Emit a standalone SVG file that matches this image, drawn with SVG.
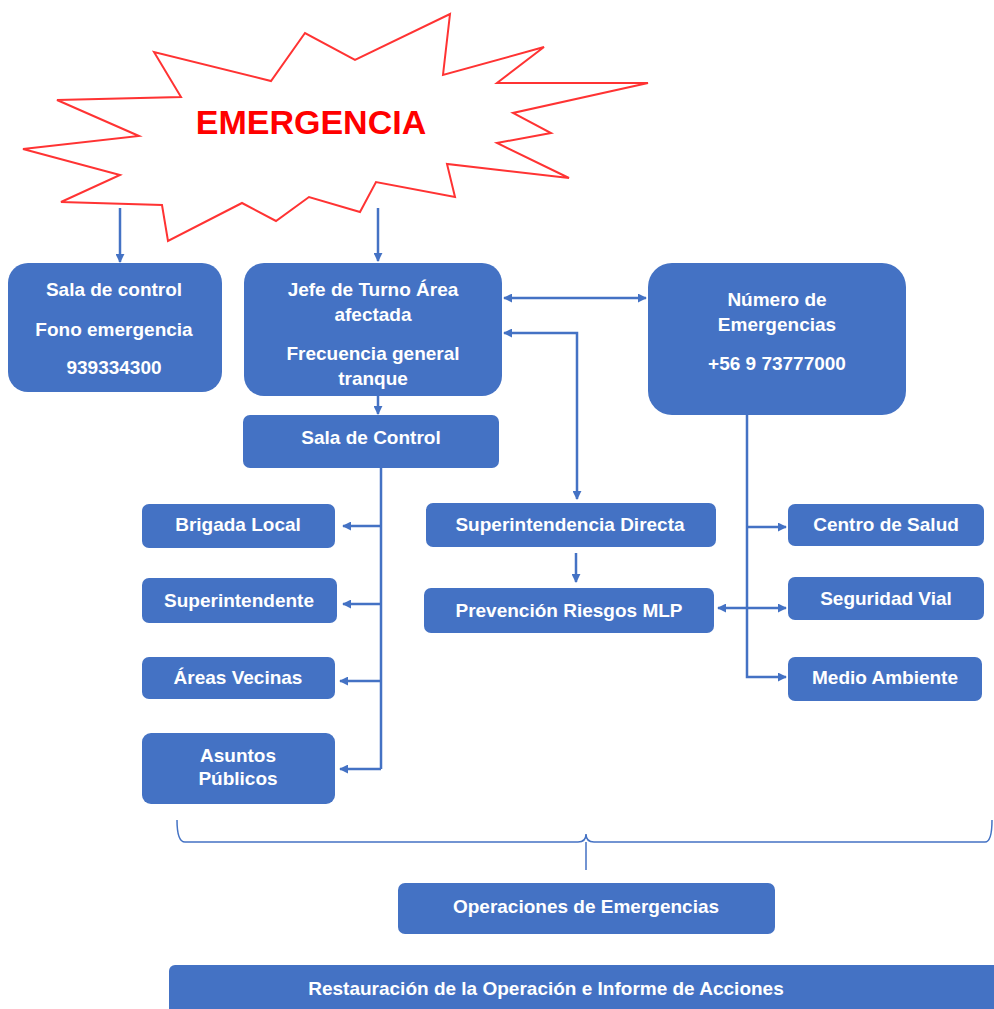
<svg xmlns="http://www.w3.org/2000/svg" width="994" height="1009" viewBox="0 0 994 1009">
<style>
.box{fill:#4472C4}
.t{font-family:"Liberation Sans",Arial,sans-serif;font-weight:bold;font-size:19px;fill:#FFFFFF;text-anchor:middle}
.c{fill:none;stroke:#4472C4;stroke-width:2.5}
</style>
<defs>
<marker id="ah" viewBox="0 0 10 10" refX="9" refY="5" markerWidth="9" markerHeight="9" markerUnits="userSpaceOnUse" orient="auto-start-reverse">
<path d="M0,0 L10,5 L0,10 z" fill="#4472C4"/>
</marker>
</defs>
<rect width="994" height="1009" fill="#FFFFFF"/>
<g id="emergencia">
<polygon points="154,52 181,97 57,100 139,136 23,149 120,175 61,202 162,205 168,241 242,203 276,221 309,197 360,212 376,182 455,197 447,164 569,178 497,143 551,133 513,113 648,83 497,83 544,47 443,75 450,14 355,60 305,33 271,81" fill="#FFFFFF" stroke="#F33" stroke-width="2"/>
<text x="311" y="134" font-family="'Liberation Sans',Arial,sans-serif" font-weight="bold" font-size="34" fill="#FF0000" text-anchor="middle">EMERGENCIA</text>
</g>
<g id="connectors">
<line class="c" x1="120" y1="208" x2="120" y2="262" marker-end="url(#ah)"/>
<line class="c" x1="378" y1="208" x2="378" y2="261" marker-end="url(#ah)"/>
<line class="c" x1="378" y1="396" x2="378" y2="414" marker-end="url(#ah)"/>
<line class="c" x1="504" y1="298" x2="646" y2="298" marker-start="url(#ah)" marker-end="url(#ah)"/>
<path class="c" d="M504,333 H577 V499" marker-start="url(#ah)" marker-end="url(#ah)"/>
<line class="c" x1="576" y1="553" x2="576" y2="582" marker-end="url(#ah)"/>
<path class="c" d="M381,468 V769"/>
<line class="c" x1="381" y1="526" x2="343" y2="526" marker-end="url(#ah)"/>
<line class="c" x1="381" y1="604" x2="343" y2="604" marker-end="url(#ah)"/>
<line class="c" x1="381" y1="681" x2="340" y2="681" marker-end="url(#ah)"/>
<line class="c" x1="381" y1="769" x2="340" y2="769" marker-end="url(#ah)"/>
<path class="c" d="M747,415 V677 H786" marker-end="url(#ah)"/>
<line class="c" x1="747" y1="527" x2="786" y2="527" marker-end="url(#ah)"/>
<line class="c" x1="718" y1="608" x2="786" y2="608" marker-start="url(#ah)" marker-end="url(#ah)"/>
<path d="M177,820 Q177,842 185,842 H578 Q586,842 586,834 Q586,842 594,842 H985 Q992,842 992,820 M586,842 V870" fill="none" stroke="#4472C4" stroke-width="1.5"/>
</g>
<g id="sala-control-fono">
<rect class="box" x="8" y="263" width="214" height="129" rx="20"/>
<text class="t" x="114" y="296">Sala de control</text>
<text class="t" x="114" y="336">Fono emergencia</text>
<text class="t" x="114" y="374">939334300</text>
</g>
<g id="jefe-turno">
<rect class="box" x="244" y="263" width="258" height="133" rx="20"/>
<text class="t" x="373" y="296">Jefe de Turno Área</text>
<text class="t" x="373" y="321">afectada</text>
<text class="t" x="373" y="360">Frecuencia general</text>
<text class="t" x="373" y="385">tranque</text>
</g>
<g id="numero-emergencias">
<rect class="box" x="648" y="263" width="258" height="152" rx="24"/>
<text class="t" x="777" y="306">Número de</text>
<text class="t" x="777" y="331">Emergencias</text>
<text class="t" x="777" y="370">+56 9 73777000</text>
</g>
<g id="sala-de-control">
<rect class="box" x="243" y="415" width="256" height="53" rx="7"/>
<text class="t" x="371" y="444">Sala de Control</text>
</g>
<g id="brigada-local">
<rect class="box" x="142" y="504" width="193" height="44" rx="7"/>
<text class="t" x="238" y="531">Brigada Local</text>
</g>
<g id="superintendente">
<rect class="box" x="142" y="578" width="195" height="45" rx="7"/>
<text class="t" x="239" y="607">Superintendente</text>
</g>
<g id="areas-vecinas">
<rect class="box" x="142" y="657" width="193" height="42" rx="7"/>
<text class="t" x="238" y="684">Áreas Vecinas</text>
</g>
<g id="asuntos-publicos">
<rect class="box" x="142" y="733" width="193" height="71" rx="9"/>
<text class="t" x="238" y="762">Asuntos</text>
<text class="t" x="238" y="785">Públicos</text>
</g>
<g id="superintendencia-directa">
<rect class="box" x="426" y="503" width="290" height="44" rx="7"/>
<text class="t" x="570" y="531">Superintendencia Directa</text>
</g>
<g id="prevencion-riesgos">
<rect class="box" x="424" y="588" width="290" height="45" rx="7"/>
<text class="t" x="569" y="617">Prevención Riesgos MLP</text>
</g>
<g id="centro-salud">
<rect class="box" x="788" y="504" width="196" height="42" rx="7"/>
<text class="t" x="886" y="531">Centro de Salud</text>
</g>
<g id="seguridad-vial">
<rect class="box" x="788" y="577" width="196" height="43" rx="7"/>
<text class="t" x="886" y="605">Seguridad Vial</text>
</g>
<g id="medio-ambiente">
<rect class="box" x="788" y="657" width="194" height="44" rx="7"/>
<text class="t" x="885" y="684">Medio Ambiente</text>
</g>
<g id="operaciones-emergencias">
<rect class="box" x="398" y="883" width="377" height="51" rx="7"/>
<text class="t" x="586" y="913">Operaciones de Emergencias</text>
</g>
<g id="restauracion">
<rect class="box" x="169" y="965" width="830" height="50" rx="6"/>
<text class="t" x="546" y="995">Restauración de la Operación e Informe de Acciones</text>
</g>
</svg>
